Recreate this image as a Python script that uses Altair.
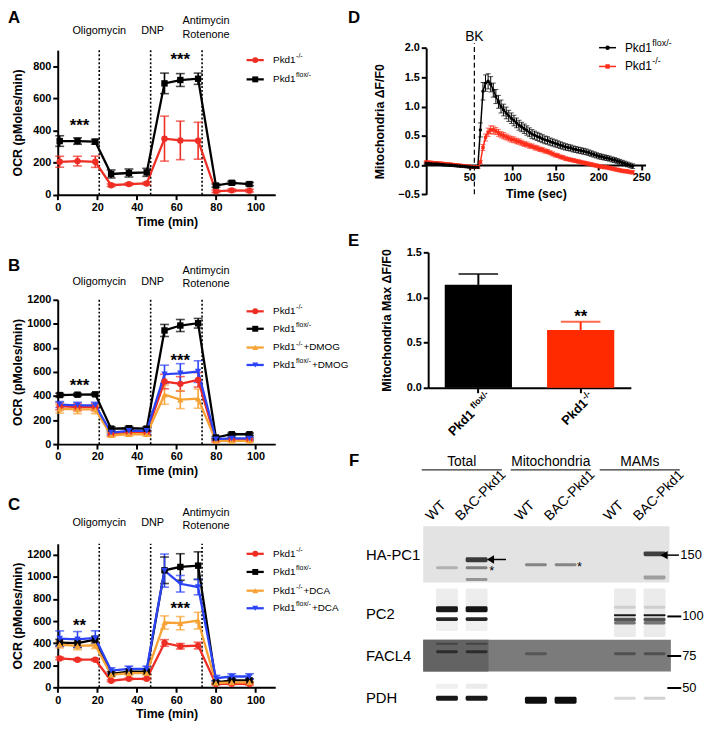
import altair as alt
import pandas as pd

FONT = "Liberation Sans"
W, H = 704, 719

# ===================== data =====================
TIME_MIN = [1, 10, 19, 27, 36, 45, 54, 62, 71, 80, 88, 97]
INJECTION_TIMES = [21, 47, 73]
INJECTION_LABELS = ["Oligomycin", "DNP", "Antimycin", "Rotenone"]

# Panel A
A_KO = [205, 209, 205, 59, 66, 70, 349, 338, 336, 21, 27, 25]
A_KO_SEM = [34, 30, 35, 8, 8, 8, 140, 120, 115, 8, 8, 8]
A_FLOX = [334, 334, 330, 129, 135, 139, 693, 714, 722, 57, 74, 66]
A_FLOX_SEM = [33, 20, 15, 25, 25, 25, 64, 40, 35, 10, 10, 10]

# Panel B
B_KO = [315, 307, 307, 82, 96, 96, 520, 501, 534, 27, 36, 36]
B_KO_SEM = [30, 30, 30, 15, 15, 15, 60, 60, 60, 10, 10, 10]
B_FLOX = [408, 411, 414, 129, 132, 129, 945, 986, 1005, 55, 82, 82]
B_FLOX_SEM = [15, 12, 12, 15, 15, 15, 50, 50, 40, 10, 10, 10]
B_KO_DMOG = [293, 288, 288, 74, 82, 82, 411, 370, 378, 27, 27, 27]
B_KO_DMOG_SEM = [35, 35, 35, 15, 15, 15, 80, 75, 80, 10, 10, 10]
B_FLOX_DMOG = [329, 323, 323, 96, 110, 110, 581, 589, 603, 41, 47, 47]
B_FLOX_DMOG_SEM = [25, 25, 25, 15, 15, 15, 75, 80, 90, 10, 10, 10]

# Panel C
C_KO = [262, 250, 250, 60, 77, 77, 402, 372, 378, 30, 33, 30]
C_KO_SEM = [12, 10, 10, 8, 8, 8, 30, 25, 30, 8, 8, 8]
C_FLOX = [405, 400, 432, 122, 143, 143, 1060, 1090, 1102, 45, 63, 63]
C_FLOX_SEM = [30, 40, 30, 20, 20, 20, 120, 120, 125, 15, 15, 15]
C_KO_DCA = [387, 375, 381, 113, 128, 128, 587, 581, 604, 39, 45, 45]
C_KO_DCA_SEM = [30, 35, 30, 20, 20, 20, 60, 60, 75, 10, 10, 10]
C_FLOX_DCA = [441, 435, 447, 152, 167, 167, 1057, 938, 908, 83, 98, 98]
C_FLOX_DCA_SEM = [70, 70, 65, 25, 25, 25, 150, 75, 70, 25, 25, 25]

# Panel D (time course, s)
D_TIME = [0, 3, 6, 9, 12, 15, 18, 21, 24, 27, 30, 33, 36, 39, 42, 45, 48, 51, 54, 57, 60,
          63, 66, 69, 72, 75, 78, 81, 84, 87, 90, 93, 96, 99, 102, 105, 108, 111, 114, 117, 120,
          123, 126, 129, 132, 135, 138, 141, 144, 147, 150, 153, 156, 159, 162, 165, 168, 171, 174, 177, 180,
          183, 186, 189, 192, 195, 198, 201, 204, 207, 210, 213, 216, 219, 222, 225, 228, 231, 234, 237, 240]
D_FLOX = [0.03, 0.027, 0.024, 0.02, 0.017, 0.013, 0.01, 0.006, 0.003, 0.0, -0.004, -0.008, -0.012, -0.016,
          -0.02, -0.024, -0.028, -0.032, -0.036, -0.04, -0.04,
          0.6, 1.26, 1.40, 1.43, 1.38, 1.28, 1.17, 1.08, 1.0, 0.94, 0.89, 0.84, 0.8, 0.76, 0.72, 0.68,
          0.65, 0.62, 0.59, 0.56,
          0.53, 0.51, 0.49, 0.47, 0.45, 0.43, 0.42, 0.40, 0.385, 0.37, 0.355, 0.34, 0.325, 0.31, 0.30,
          0.29, 0.275, 0.265, 0.255, 0.245,
          0.235, 0.225, 0.21, 0.195, 0.18, 0.165, 0.15, 0.14, 0.13, 0.12, 0.11, 0.095, 0.085, 0.07,
          0.055, 0.04, 0.025, 0.01, -0.005, -0.02]
D_FLOX_SEM = [0.02, 0.02, 0.02, 0.02, 0.02, 0.02, 0.02, 0.02, 0.02, 0.02, 0.02, 0.02, 0.02, 0.02,
              0.02, 0.02, 0.02, 0.02, 0.02, 0.02, 0.02,
              0.12, 0.15, 0.14, 0.13, 0.13, 0.12, 0.12, 0.11, 0.11, 0.1, 0.1, 0.095, 0.09, 0.09, 0.085,
              0.085, 0.08, 0.08, 0.08, 0.075,
              0.075, 0.07, 0.07, 0.07, 0.068, 0.066, 0.064, 0.062, 0.06, 0.06, 0.058, 0.056, 0.055,
              0.054, 0.053, 0.052, 0.051, 0.05, 0.05, 0.05,
              0.05, 0.049, 0.048, 0.047, 0.046, 0.045, 0.045, 0.044, 0.044, 0.043, 0.043, 0.042, 0.042,
              0.041, 0.041, 0.04, 0.04, 0.04, 0.04, 0.04]
D_KO = [0.05, 0.047, 0.044, 0.04, 0.036, 0.032, 0.028, 0.024, 0.02, 0.015, 0.01, 0.005, 0.0, -0.005,
        -0.01, -0.015, -0.02, -0.025, -0.03, -0.035, -0.03,
        0.05, 0.3, 0.47, 0.56, 0.6, 0.6, 0.58, 0.55, 0.52, 0.5, 0.48, 0.46, 0.44, 0.43, 0.41, 0.4,
        0.38, 0.36, 0.35, 0.33,
        0.32, 0.3, 0.29, 0.27, 0.26, 0.24, 0.23, 0.21, 0.19, 0.17, 0.16, 0.14, 0.13, 0.11, 0.1,
        0.09, 0.08, 0.07, 0.06, 0.05,
        0.04, 0.03, 0.02, 0.01, 0.0, -0.01, -0.02, -0.03, -0.035, -0.04, -0.05, -0.06, -0.07, -0.08,
        -0.09, -0.1, -0.105, -0.11, -0.12, -0.125]
D_KO_SEM = [0.02, 0.02, 0.02, 0.02, 0.02, 0.02, 0.02, 0.02, 0.02, 0.02, 0.02, 0.02, 0.02, 0.02,
            0.02, 0.02, 0.02, 0.02, 0.02, 0.02, 0.02,
            0.03, 0.05, 0.06, 0.07, 0.07, 0.065, 0.06, 0.06, 0.055, 0.055, 0.05, 0.05, 0.05, 0.05,
            0.048, 0.046, 0.045, 0.044, 0.043, 0.042,
            0.04, 0.04, 0.04, 0.039, 0.038, 0.037, 0.036, 0.035, 0.035, 0.034, 0.034, 0.033, 0.033,
            0.032, 0.032, 0.031, 0.031, 0.03, 0.03, 0.03,
            0.03, 0.03, 0.03, 0.03, 0.03, 0.03, 0.03, 0.03, 0.03, 0.03, 0.03, 0.03, 0.03, 0.03,
            0.03, 0.03, 0.03, 0.03, 0.03, 0.03]
D_STIM_TIME = 56

# Panel E
E_KEYS = ["flox", "ko"]
E_SUPS = ["flox/-", "-/-"]
E_MEAN = [1.14, 0.64]
E_SEM = [0.12, 0.09]

# Panel F (western blot)
F_FRACTIONS = ["Total", "Mitochondria", "MAMs"]
F_LANE_NAMES = ["WT", "BAC-Pkd1", "WT", "BAC-Pkd1", "WT", "BAC-Pkd1"]
F_BLOTS = ["HA-PC1", "PC2", "FACL4", "PDH"]
F_MW = ["150", "100", "75", "50"]
# (blot, lane index, migration from blot top, band thickness, intensity)
F_BANDS = [
    ("HA-PC1", 0, 42, 3, 0.22),
    ("HA-PC1", 1, 34, 5, 0.75), ("HA-PC1", 1, 42, 3, 0.45), ("HA-PC1", 1, 54, 3, 0.35),
    ("HA-PC1", 2, 39, 3, 0.42), ("HA-PC1", 3, 39, 3, 0.42),
    ("HA-PC1", 5, 28, 5, 0.72), ("HA-PC1", 5, 52, 4, 0.3),
    ("PC2", 0, 72.5, 19, 0.07), ("PC2", 1, 72.5, 19, 0.07),
    ("PC2", 0, 84, 6, 0.9), ("PC2", 1, 84, 6, 0.92),
    ("PC2", 0, 94, 4, 0.85), ("PC2", 1, 94, 4, 0.85),
    ("PC2", 0, 101, 10, 0.06), ("PC2", 1, 101, 10, 0.06),
    ("PC2", 4, 87.5, 49, 0.08), ("PC2", 5, 87.5, 49, 0.08),
    ("PC2", 4, 82, 3, 0.12), ("PC2", 5, 82, 3, 0.12),
    ("PC2", 4, 90, 2, 0.9), ("PC2", 5, 90, 2, 0.9),
    ("PC2", 4, 94.5, 4, 0.65), ("PC2", 5, 94.5, 4, 0.65),
    ("PC2", 4, 98, 3, 0.5), ("PC2", 5, 98, 3, 0.5),
    ("FACL4", 0, 119, 2, 0.3), ("FACL4", 1, 119, 2, 0.3),
    ("FACL4", 0, 127, 3, 0.55), ("FACL4", 1, 127, 3, 0.55),
    ("FACL4", 2, 129, 3, 0.3),
    ("FACL4", 4, 129, 3, 0.35), ("FACL4", 5, 129, 3, 0.35),
    ("PDH", 0, 162, 5, 0.06), ("PDH", 1, 162, 5, 0.08),
    ("PDH", 0, 174, 5, 0.9), ("PDH", 1, 174, 5, 0.9),
    ("PDH", 2, 176, 7, 0.95), ("PDH", 3, 176, 7, 0.95),
    ("PDH", 4, 174, 3, 0.15), ("PDH", 5, 174, 3, 0.18),
]

# ===================== styles =====================
KEYS = ["ko", "flox", "ko_t", "flox_t"]
COLORS = ["#ee2e24", "#000000", "#f7a234", "#2c44f5"]
SHAPES = ["circle", "square", "triangle-up", "triangle-down"]
SUP = {"ko": "-/-", "flox": "flox/-", "ko_t": "-/-", "flox_t": "flox/-"}


def ocr_panel(series, y_domain, y_range, y_ticks, label_y, stars, legend_y, suffix, title_pad):
    rows = []
    for key, mean, sem in series:
        for t, m, s in zip(TIME_MIN, mean, sem):
            rows.append({"series": key, "t": t, "mean": m, "lo": m - s, "hi": m + s})
    df = pd.DataFrame(rows)
    keys = [s[0] for s in series]

    xs = alt.Scale(domain=[0, 110], range=[50.3, 270.3], nice=False, zero=False)
    ys = alt.Scale(domain=y_domain, range=y_range, nice=False, zero=False)
    xax = alt.Axis(orient="bottom", offset=y_range[0] - H, values=[0, 20, 40, 60, 80, 100],
                   title="Time (min)", labelFlush=False, labelOverlap=False, titlePadding=3)
    yax = alt.Axis(orient="left", offset=-50.3, values=y_ticks, format="d", title="OCR (pMoles/min)",
                   titlePadding=title_pad, labelFlush=False, labelOverlap=False)

    def X(f):
        return alt.X(f, type="quantitative", scale=xs, axis=xax)

    def Y(f):
        return alt.Y(f, type="quantitative", scale=ys, axis=yax)

    color = alt.Color("series:N", scale=alt.Scale(domain=KEYS, range=COLORS), legend=None)
    shape = alt.Shape("series:N", scale=alt.Scale(domain=KEYS, range=SHAPES), legend=None)

    inj = pd.DataFrame({"t": INJECTION_TIMES, "y0": [y_domain[0]] * 3, "y1": [y_domain[1]] * 3})
    lab = pd.DataFrame({"t": [21, 48, 75, 75], "y": label_y, "label": INJECTION_LABELS})
    st = pd.DataFrame({"t": [s[0] for s in stars], "y": [s[1] for s in stars], "txt": [s[2] for s in stars]})

    n = len(keys)
    leg = pd.DataFrame({"series": keys, "y": legend_y, "tp": [99.9] * n, "tt": [108.9] * n,
                        "sup": [SUP[k] for k in keys]})
    seg = pd.DataFrame({"series": [k for k in keys for _ in (0, 1)],
                        "t": [95.5, 104.2] * n,
                        "y": [y for y in legend_y for _ in (0, 1)]})

    layers = [
        alt.Chart(inj).mark_rule(color="black", strokeWidth=1.6, strokeDash=[2, 2]).encode(
            x=X("t"), y=Y("y0"), y2="y1"),
        alt.Chart(lab).mark_text(font=FONT, fontSize=11, color="black", baseline="middle").encode(
            x=X("t"), y=Y("y"), text="label:N"),
        alt.Chart(st).mark_text(font=FONT, fontSize=17, fontWeight="bold", color="black",
                                baseline="alphabetic").encode(x=X("t"), y=Y("y"), text="txt:N"),
        alt.Chart(df).mark_rule(strokeWidth=1.6).encode(x=X("t"), y=Y("lo"), y2="hi", color=color),
        alt.Chart(df).transform_fold(["lo", "hi"], as_=["end", "v"]).mark_tick(
            orient="horizontal", size=9, thickness=1.6).encode(x=X("t"), y=Y("v"), color=color),
        alt.Chart(df).mark_line(strokeWidth=2.3).encode(x=X("t"), y=Y("mean"), color=color),
        alt.Chart(df).mark_point(filled=True, size=42, opacity=1).encode(
            x=X("t"), y=Y("mean"), color=color, shape=shape),
        alt.Chart(seg).mark_line(strokeWidth=2.3).encode(x=X("t"), y=Y("y"), color=color, detail="series:N"),
        alt.Chart(leg).mark_point(filled=True, size=36, opacity=1).encode(
            x=X("tp"), y=Y("y"), color=color, shape=shape),
        alt.Chart(leg).mark_text(font=FONT, fontSize=10, align="left", baseline="middle", color="black").encode(
            x=X("tt"), y=Y("y"), text=alt.value("Pkd1")),
        alt.Chart(leg).mark_text(font=FONT, fontSize=7, align="left", baseline="middle", color="black",
                                 dx=23.3, dy=-4).encode(x=X("tt"), y=Y("y"), text="sup:N"),
    ]
    if suffix:
        for key, shift in (("ko_t", 30.7), ("flox_t", 39.3)):
            sub = leg[leg["series"] == key]
            layers.append(alt.Chart(sub).mark_text(font=FONT, fontSize=10, align="left", baseline="middle",
                                                   color="black", dx=shift).encode(
                x=X("tt"), y=Y("y"), text=alt.value(suffix)))
    return alt.layer(*layers)


panel_a = ocr_panel(
    [("ko", A_KO, A_KO_SEM), ("flox", A_FLOX, A_FLOX_SEM)],
    [0, 900], [184.7, 38.5], [0, 200, 400, 600, 800],
    [1020, 1020, 1082, 995],
    [(11, 398, "***"), (62, 806, "***")],
    [838, 718], None, 8)

panel_b = ocr_panel(
    [("ko", B_KO, B_KO_SEM), ("flox", B_FLOX, B_FLOX_SEM),
     ("ko_t", B_KO_DMOG, B_KO_DMOG_SEM), ("flox_t", B_FLOX_DMOG, B_FLOX_DMOG_SEM)],
    [0, 1200], [437, 291], [0, 200, 400, 600, 800, 1000, 1200],
    [1348, 1348, 1438, 1332],
    [(11, 441, "***"), (62, 652, "***")],
    [1104, 959, 803, 658], "+DMOG", 2)

panel_c = ocr_panel(
    [("ko", C_KO, C_KO_SEM), ("flox", C_FLOX, C_FLOX_SEM),
     ("ko_t", C_KO_DCA, C_KO_DCA_SEM), ("flox_t", C_FLOX_DCA, C_FLOX_DCA_SEM)],
    [0, 1300], [683, 537.8], [0, 200, 400, 600, 800, 1000, 1200],
    [1487, 1487, 1576, 1457],
    [(11, 513, "**"), (62, 668, "***")],
    [1209, 1045, 875, 716], "+DCA", 2)


# ---------------- Panel D ----------------
def d_panel():
    rows = []
    for key, mean, sem in (("ko", D_KO, D_KO_SEM), ("flox", D_FLOX, D_FLOX_SEM)):
        for t, m, s in zip(D_TIME, mean, sem):
            rows.append({"series": key, "t": t, "mean": m, "lo": m - s, "hi": m + s})
    df = pd.DataFrame(rows)
    xs = alt.Scale(domain=[0, 255], range=[423, 644.85], nice=False, zero=False)
    ys = alt.Scale(domain=[-0.5, 2.0], range=[184.3, 36.3], nice=False, zero=False)
    xax = alt.Axis(orient="bottom", offset=154.7 - H, values=[50, 100, 150, 200, 250], title="Time (sec)",
                   labelFlush=False, labelOverlap=False, titlePadding=5)
    yax = alt.Axis(orient="left", offset=-423, values=[-0.5, 0, 0.5, 1.0, 1.5, 2.0], format=".1f",
                   title="Mitochondria ΔF/F0", titlePadding=11, labelFlush=False, labelOverlap=False)

    def X(f):
        return alt.X(f, type="quantitative", scale=xs, axis=xax)

    def Y(f):
        return alt.Y(f, type="quantitative", scale=ys, axis=yax)

    dk = ["flox", "ko"]
    color = alt.Color("series:N", scale=alt.Scale(domain=dk, range=["#000000", "#ff2d1a"]), legend=None)
    shape = alt.Shape("series:N", scale=alt.Scale(domain=dk, range=["circle", "square"]), legend=None)

    stim = pd.DataFrame({"t": [D_STIM_TIME], "y0": [-0.5], "y1": [2.08], "yt": [2.19]})
    leg = pd.DataFrame({"series": dk, "y": [2.005, 1.684], "tp": [210.9, 210.9], "tt": [231, 231],
                        "sup": ["flox/-", "-/-"]})
    seg = pd.DataFrame({"series": ["flox", "flox", "ko", "ko"], "t": [201, 220.7, 201, 220.7],
                        "y": [2.005, 2.005, 1.684, 1.684]})
    return alt.layer(
        alt.Chart(stim).mark_rule(color="black", strokeWidth=1.2, strokeDash=[5, 3]).encode(
            x=X("t"), y=Y("y0"), y2="y1"),
        alt.Chart(stim).mark_text(font=FONT, fontSize=14, color="black", baseline="middle").encode(
            x=X("t"), y=Y("yt"), text=alt.value("BK")),
        alt.Chart(df).mark_rule(strokeWidth=1).encode(x=X("t"), y=Y("lo"), y2="hi", color=color),
        alt.Chart(df).transform_fold(["lo", "hi"], as_=["end", "v"]).mark_tick(
            orient="horizontal", size=5, thickness=1).encode(x=X("t"), y=Y("v"), color=color),
        alt.Chart(df).mark_line(strokeWidth=1.5).encode(x=X("t"), y=Y("mean"), color=color),
        alt.Chart(df).mark_point(filled=True, size=12, opacity=1).encode(
            x=X("t"), y=Y("mean"), color=color, shape=shape),
        alt.Chart(seg).mark_line(strokeWidth=1.5).encode(x=X("t"), y=Y("y"), color=color, detail="series:N"),
        alt.Chart(leg).mark_point(filled=True, size=20, opacity=1).encode(
            x=X("tp"), y=Y("y"), color=color, shape=shape),
        alt.Chart(leg).mark_text(font=FONT, fontSize=12, align="left", baseline="middle", color="black").encode(
            x=X("tt"), y=Y("y"), text=alt.value("Pkd1")),
        alt.Chart(leg).mark_text(font=FONT, fontSize=9, align="left", baseline="middle", color="black",
                                 dx=27.8, dy=-5).encode(x=X("tt"), y=Y("y"), text="sup:N"),
    )


# ---------------- Panel E ----------------
def e_panel():
    df = pd.DataFrame({"key": E_KEYS, "mean": E_MEAN, "hi": [m + s for m, s in zip(E_MEAN, E_SEM)],
                       "sup": E_SUPS, "ly": [-0.11, -0.11]})
    xs = alt.Scale(domain=E_KEYS, range=[425, 630], paddingInner=0.343, paddingOuter=0.162)
    ys = alt.Scale(domain=[0, 1.5], range=[380, 243], nice=False, zero=False)
    xax = alt.Axis(orient="bottom", offset=380 - H, labels=False, title=None)
    yax = alt.Axis(orient="left", offset=-425, values=[0, 0.5, 1.0, 1.5], format=".1f",
                   title="Mitochondria Max ΔF/F0", titlePadding=13, labelFlush=False, labelOverlap=False)

    def X():
        return alt.X("key:N", scale=xs, axis=xax)

    def Y(f):
        return alt.Y(f, type="quantitative", scale=ys, axis=yax)

    color = alt.Color("key:N", scale=alt.Scale(domain=E_KEYS, range=["#000000", "#ff2a00"]), legend=None)
    flox = df[df["key"] == "flox"]
    ko = df[df["key"] == "ko"]
    lab = dict(font=FONT, fontSize=13, fontWeight="bold", align="right", baseline="alphabetic",
               angle=315, color="black")
    sup = dict(font=FONT, fontSize=9, fontWeight="bold", align="right", baseline="alphabetic",
               angle=315, color="black", dx=10, dy=5)
    return alt.layer(
        alt.Chart(df).mark_bar().encode(x=X(), y=Y("mean"), color=color),
        alt.Chart(df).mark_rule(strokeWidth=2).encode(x=X(), y=Y("mean"), y2="hi", color=color),
        alt.Chart(df).mark_tick(orient="horizontal", size=40, thickness=2).encode(x=X(), y=Y("hi"), color=color),
        alt.Chart(ko).mark_text(font=FONT, fontSize=17, fontWeight="bold", color="black",
                                baseline="alphabetic").encode(x=X(), y=Y("hi"), text=alt.value("**")),
        alt.Chart(flox).mark_text(dx=-14.5, dy=10, **lab).encode(x=X(), y=Y("ly"), text=alt.value("Pkd1")),
        alt.Chart(ko).mark_text(dx=1, dy=10, **lab).encode(x=X(), y=Y("ly"), text=alt.value("Pkd1")),
        alt.Chart(df).mark_text(**sup).encode(x=X(), y=Y("ly"), text="sup:N"),
    )


# ---------------- Panel F ----------------
def f_panel():
    slots = [0, 1, 3, 4, 6, 7]
    xs = alt.Scale(domain=[-0.8, 7.5], range=[420, 669], nice=False, zero=False)
    ys = alt.Scale(domain=[0, 190], range=[520, 710], nice=False, zero=False)

    def X(f):
        return alt.X(f, type="quantitative", scale=xs, axis=None)

    def Y(f):
        return alt.Y(f, type="quantitative", scale=ys, axis=None)

    bg = pd.DataFrame({"x0": [-0.8, -0.8, -0.8], "x1": [7.5, 7.55, 1.4], "y0": [0, 115, 115],
                       "y1": [57, 147, 147], "fill": ["#e3e3e3", "#7b7b7b", "#636363"]})
    bands = pd.DataFrame({
        "x0": [slots[b[1]] - 0.37 for b in F_BANDS],
        "x1": [slots[b[1]] + 0.37 for b in F_BANDS],
        "y0": [b[2] - b[3] / 2 for b in F_BANDS],
        "y1": [b[2] + b[3] / 2 for b in F_BANDS],
        "op": [b[4] for b in F_BANDS],
    })
    rows = pd.DataFrame({"label": F_BLOTS, "x": [-2.73] * 4, "y": [29, 89, 131, 174]})
    heads = pd.DataFrame({"label": F_FRACTIONS, "x": [0.5, 3.5, 6.5], "y": [-65] * 3,
                          "x0": [-0.85, 2.15, 5.15], "x1": [1.85, 4.85, 7.85], "yl": [-57] * 3})
    lanes = pd.DataFrame({"label": F_LANE_NAMES, "x": slots, "y": [-5] * 6})
    mw = pd.DataFrame({"label": F_MW, "y": [29.3, 91.3, 131.3, 163.7], "x0": [7.32, 7.43, 7.43, 7.43],
                       "x1": [7.82, 7.9, 7.9, 7.9], "xt": [7.87, 7.93, 7.93, 7.93]})
    arrows = pd.DataFrame({"x0": [1.467, 7.32], "x1": [1.99, 7.82], "y": [33.7, 29.3]})
    stars = pd.DataFrame({"x": [1.51, 4.47], "y": [49.7, 45.7]})
    return alt.layer(
        alt.Chart(bg).mark_rect().encode(x=X("x0"), x2="x1", y=Y("y0"), y2="y1",
                                         fill=alt.Fill("fill:N", scale=None)),
        alt.Chart(bands).mark_rect(color="black", cornerRadius=1.5).encode(
            x=X("x0"), x2="x1", y=Y("y0"), y2="y1", opacity=alt.Opacity("op:Q", scale=None)),
        alt.Chart(rows).mark_text(font=FONT, fontSize=15, align="left", baseline="middle", color="black").encode(
            x=X("x"), y=Y("y"), text="label:N"),
        alt.Chart(heads).mark_text(font=FONT, fontSize=14, baseline="middle", color="black").encode(
            x=X("x"), y=Y("y"), text="label:N"),
        alt.Chart(heads).mark_rule(color="#333333", strokeWidth=1.3).encode(x=X("x0"), x2="x1", y=Y("yl")),
        alt.Chart(lanes).mark_text(font=FONT, fontSize=14, align="left", baseline="alphabetic", angle=315,
                                   dx=-11.3, dy=-11.3, color="black").encode(x=X("x"), y=Y("y"), text="label:N"),
        alt.Chart(mw[mw["label"] != "150"]).mark_rule(color="black", strokeWidth=2).encode(
            x=X("x0"), x2="x1", y=Y("y")),
        alt.Chart(mw).mark_text(font=FONT, fontSize=13, align="left", baseline="middle", color="black").encode(
            x=X("xt"), y=Y("y"), text="label:N"),
        alt.Chart(arrows).mark_rule(color="black", strokeWidth=1.5).encode(x=X("x0"), x2="x1", y=Y("y")),
        alt.Chart(arrows).mark_point(shape="triangle-left", filled=True, size=70, color="black", opacity=1).encode(
            x=X("x0"), y=Y("y")),
        alt.Chart(stars).mark_text(font=FONT, fontSize=13, color="black", baseline="alphabetic").encode(
            x=X("x"), y=Y("y"), text=alt.value("*")),
    )


letters = alt.Chart(pd.DataFrame({
    "letter": ["A", "B", "C", "D", "E", "F"],
    "px": [0, 0, 0, 344, 344, 345],
    "py": [6, 257, 499, 6, 232, 454],
})).mark_text(font=FONT, fontSize=17, fontWeight="bold", align="left", baseline="middle", color="black").encode(
    x=alt.X("px:Q", scale=None), y=alt.Y("py:Q", scale=None), text="letter:N")

chart = alt.layer(
    panel_a, panel_b, panel_c, d_panel(), e_panel(), f_panel(), letters
).resolve_scale(
    x="independent", y="independent", color="independent", shape="independent"
).properties(
    width=W, height=H, autosize=alt.AutoSizeParams(type="none"), padding=0
).configure_view(
    stroke=None
).configure_axis(
    domainColor="black", domainWidth=2, tickColor="black", tickWidth=2, tickSize=5,
    labelFont=FONT, labelFontSize=11, labelFontWeight="bold", labelColor="black",
    titleFont=FONT, titleFontSize=12.5, titleFontWeight="bold", titleColor="black",
    grid=False, labelPadding=2
)

chart.save("out.html", embed_options={"renderer": "svg", "actions": False})
